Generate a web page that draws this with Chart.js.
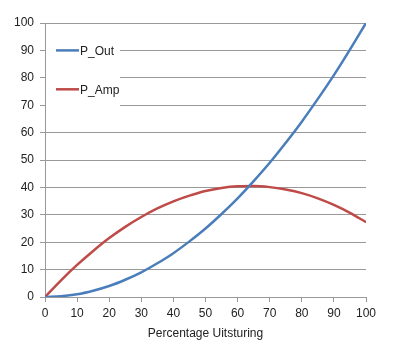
<!DOCTYPE html>
<html>
<head>
<meta charset="utf-8">
<script src="https://cdn.jsdelivr.net/npm/chart.js@4/dist/chart.umd.min.js"></script>
<style>
  html, body { margin: 0; padding: 0; background: #fff; }
  #wrap { width: 400px; height: 351px; }
</style>
</head>
<body>
<div id="wrap"><canvas id="chart" width="400" height="351"></canvas></div>
<script>
// Data
const uitsturing = [0, 5, 10, 15, 20, 25, 30, 35, 40, 45, 50, 55, 60, 65, 70, 75, 80, 85, 90, 95, 100];
const pOut = [0, 0.3, 1, 2.3, 4, 6.3, 9, 12.3, 16, 20.3, 25, 30.3, 36, 42.3, 49, 56.3, 64, 72.3, 81, 90.3, 100];
const pAmp = [0, 6.1, 11.7, 16.8, 21.5, 25.6, 29.2, 32.3, 34.9, 37.0, 38.7, 39.8, 40.4, 40.5, 40.1, 39.2, 37.9, 36.0, 33.6, 30.7, 27.3];
const seriesNames = ['P_Out', 'P_Amp'];
const seriesColors = ['#4a7ebb', '#be4b48'];

const FONT = "'Liberation Sans', Arial, sans-serif";
Chart.defaults.font.family = FONT;
Chart.defaults.font.size = 12;
Chart.defaults.color = '#222';

const toPoints = (ys) => uitsturing.map((x, i) => ({ x: x, y: ys[i] }));

// Legend drawn inside the plot area, on a white box
const insideLegend = {
    id: 'insideLegend',
    afterDraw(chart) {
        const ctx = chart.ctx;
        const x = chart.scales.x;
        const y = chart.scales.y;
        const left = x.left + 1;
        const rows = [y.getPixelForValue(90), y.getPixelForValue(75.8)];
        ctx.save();
        ctx.fillStyle = '#fff';
        ctx.fillRect(left, y.getPixelForValue(94.5), 74, y.getPixelForValue(69) - y.getPixelForValue(94.5));
        ctx.font = '12px ' + FONT;
        ctx.textBaseline = 'middle';
        seriesNames.forEach((name, i) => {
            ctx.strokeStyle = seriesColors[i];
            ctx.lineWidth = 2.5;
            ctx.beginPath();
            ctx.moveTo(left + 10, rows[i]);
            ctx.lineTo(left + 33, rows[i]);
            ctx.stroke();
            ctx.fillStyle = '#222';
            ctx.fillText(name, left + 34, rows[i] + 1);
        });
        ctx.restore();
    }
};

new Chart(document.getElementById('chart'), {
    type: 'line',
    data: {
        datasets: [
            {
                label: seriesNames[0],
                data: toPoints(pOut),
                borderColor: seriesColors[0],
                borderWidth: 2.5,
                pointRadius: 0,
                cubicInterpolationMode: 'monotone',
                fill: false
            },
            {
                label: seriesNames[1],
                data: toPoints(pAmp),
                borderColor: seriesColors[1],
                borderWidth: 2.5,
                pointRadius: 0,
                cubicInterpolationMode: 'monotone',
                fill: false
            }
        ]
    },
    options: {
        responsive: false,
        animation: false,
        layout: { padding: { left: 0, right: 34, top: 23, bottom: 0 } },
        plugins: {
            legend: { display: false },
            tooltip: { enabled: false }
        },
        scales: {
            x: {
                type: 'linear',
                min: 0,
                max: 100,
                ticks: { stepSize: 10, padding: 4 },
                grid: { drawOnChartArea: false, drawTicks: true, tickLength: 5, color: '#999' },
                border: { color: '#999' },
                title: { display: true, text: 'Percentage Uitsturing', padding: { top: 4, bottom: 10 } },
                afterFit(scale) { scale.height = 54; }
            },
            y: {
                min: 0,
                max: 100,
                ticks: { stepSize: 10, padding: 6 },
                grid: { drawTicks: true, tickLength: 5, color: '#999' },
                border: { color: '#999' },
                afterFit(scale) { scale.width = 45; }
            }
        }
    },
    plugins: [insideLegend]
});
</script>
</body>
</html>
